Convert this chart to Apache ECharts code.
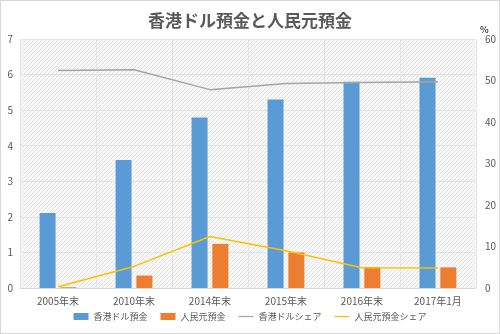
<!DOCTYPE html>
<html>
<head>
<meta charset="utf-8">
<script src="https://cdn.jsdelivr.net/npm/echarts@6/dist/echarts.min.js"></script>
<style>
html,body{margin:0;padding:0;background:#fff;}
#wrap{position:absolute;left:0;top:0;width:498px;height:332px;border:1px solid #d9d9d9;}
#chart{width:498px;height:332px;}
</style>
</head>
<body>
<div id="wrap"><div id="chart"></div></div>
<script>
// 期末時点の預金残高(兆香港ドル)と預金全体に占めるシェア(%)
const categories = ['2005年末', '2010年末', '2014年末', '2015年末', '2016年末', '2017年1月'];
const hkdDeposits = [2.11, 3.6, 4.79, 5.3, 5.8, 5.91];
const rmbDeposits = [0.02, 0.35, 1.24, 1.0, 0.59, 0.58];
const hkdShare = [52.4, 52.6, 47.8, 49.3, 49.5, 49.7];
const rmbShare = [0.3, 5.2, 12.4, 9.0, 4.9, 4.8];
const leftTicks = [0, 7, 1];
const rightTicks = [0, 60, 10];

const FONT = '"Noto Sans CJK JP", "Noto Sans", sans-serif';
const TEXT = '#595959';
const LINE_ICON = 'path://M0,0H20V1.6H0Z';

// light diagonal hatch for the plot area
function hatch() {
  const c = document.createElement('canvas');
  c.width = 4; c.height = 4;
  const g = c.getContext('2d');
  g.fillStyle = '#f7f7f7';
  g.fillRect(0, 0, 4, 4);
  g.fillStyle = '#e6e6e6';
  g.fillRect(0, 3, 1, 1);
  g.fillRect(1, 2, 1, 1);
  g.fillRect(2, 1, 1, 1);
  g.fillRect(3, 0, 1, 1);
  return c;
}

const chart = echarts.init(document.getElementById('chart'));
chart.setOption({
  animation: false,
  textStyle: { fontFamily: FONT },
  title: {
    text: '香港ドル預金と人民元預金',
    left: 'center', top: 6,
    textStyle: { fontSize: 17, fontWeight: 'bold', color: TEXT, fontFamily: FONT }
  },
  grid: {
    left: 19, right: 23, top: 38, bottom: 45,
    show: true, borderWidth: 0,
    backgroundColor: { image: hatch(), repeat: 'repeat' }
  },
  legend: {
    bottom: 7, left: 'center',
    itemGap: 13, itemWidth: 15, itemHeight: 7,
    textStyle: { fontSize: 9, color: TEXT, fontFamily: FONT },
    data: [
      { name: '香港ドル預金', icon: 'rect' },
      { name: '人民元預金', icon: 'rect' },
      { name: '香港ドルシェア', icon: LINE_ICON, itemStyle: { color: '#a5a5a5' } },
      { name: '人民元預金シェア', icon: LINE_ICON, itemStyle: { color: '#ffc000' } }
    ]
  },
  xAxis: {
    type: 'category',
    data: categories,
    axisLine: { show: true, lineStyle: { color: '#d9d9d9' } },
    axisTick: { show: false },
    splitLine: { show: true, lineStyle: { color: '#e6e6e6' } },
    axisLabel: { color: TEXT, fontSize: 10, margin: 8, interval: 0 }
  },
  yAxis: [
    {
      type: 'value', min: leftTicks[0], max: leftTicks[1], interval: leftTicks[2],
      axisLine: { show: false }, axisTick: { show: false },
      splitLine: { lineStyle: { color: '#e6e6e6' } },
      axisLabel: { color: TEXT, fontSize: 10, margin: 7 }
    },
    {
      type: 'value', min: rightTicks[0], max: rightTicks[1], interval: rightTicks[2],
      name: '%', nameGap: 4,
      nameTextStyle: { color: '#404040', fontSize: 9, fontWeight: 'bold', align: 'left', padding: [0, 0, 0, 4] },
      axisLine: { show: false }, axisTick: { show: false },
      splitLine: { show: false },
      axisLabel: { color: TEXT, fontSize: 10, margin: 9 }
    }
  ],
  series: [
    {
      name: '香港ドル預金', type: 'bar', data: hkdDeposits,
      barWidth: 16, barGap: '30%',
      itemStyle: { color: '#5b9bd5' }
    },
    {
      name: '人民元預金', type: 'bar', data: rmbDeposits,
      barWidth: 16,
      itemStyle: { color: '#ed7d31' }
    },
    {
      name: '香港ドルシェア', type: 'line', yAxisIndex: 1, data: hkdShare,
      symbol: 'none', lineStyle: { color: '#a5a5a5', width: 1.5 },
      itemStyle: { color: '#a5a5a5' }
    },
    {
      name: '人民元預金シェア', type: 'line', yAxisIndex: 1, data: rmbShare,
      symbol: 'none', lineStyle: { color: '#ffc000', width: 1.5 },
      itemStyle: { color: '#ffc000' }
    }
  ]
});
</script>
</body>
</html>
